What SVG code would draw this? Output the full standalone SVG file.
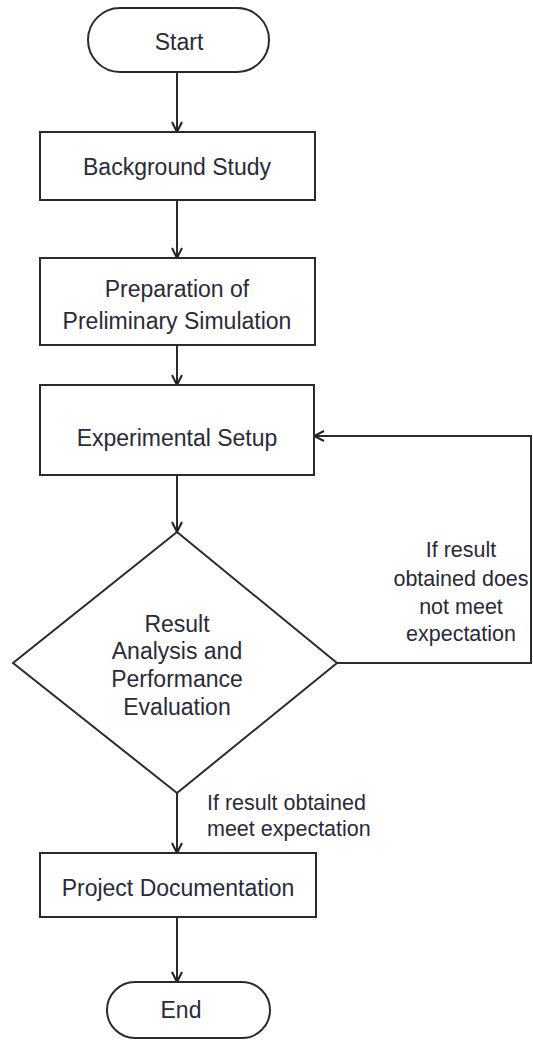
<svg xmlns="http://www.w3.org/2000/svg" width="533" height="1045" viewBox="0 0 533 1045">
<defs>
<marker id="arr" viewBox="0 0 12 12" refX="11" refY="6" markerWidth="12" markerHeight="12" markerUnits="userSpaceOnUse" orient="auto">
<path d="M1,1 L11,6 L1,11" fill="none" stroke="#222" stroke-width="2"/>
</marker>
<style>
.box{fill:#fff;stroke:#2b2b2b;stroke-width:2}
.t{font-family:"Liberation Sans",Arial,sans-serif;font-size:23px;fill:#2a2a38;text-anchor:middle}
.l{font-family:"Liberation Sans",Arial,sans-serif;font-size:21.5px;fill:#2a2a38}
.c{fill:none;stroke:#2b2b2b;stroke-width:2;marker-end:url(#arr)}
</style>
</defs>
<rect width="533" height="1045" fill="#fff"/>
<g id="connectors">
<path class="c" d="M177,72 V132"/>
<path class="c" d="M177,200 V258"/>
<path class="c" d="M177,345 V385"/>
<path class="c" d="M177,475 V532"/>
<path class="c" d="M177,793 V853"/>
<path class="c" d="M177,917 V982"/>
<path class="c" d="M337,663 H531 V436 H314"/>
</g>
<g id="start">
<rect class="box" x="88" y="8" width="181" height="64" rx="32"/>
<text class="t" x="179" y="50">Start</text>
</g>
<g id="background">
<rect class="box" x="40" y="132" width="275" height="68"/>
<text class="t" x="177" y="175">Background Study</text>
</g>
<g id="preparation">
<rect class="box" x="40" y="258" width="275" height="87"/>
<text class="t" x="177" y="297">Preparation of</text>
<text class="t" x="177" y="329">Preliminary Simulation</text>
</g>
<g id="experimental">
<rect class="box" x="40" y="385" width="274" height="90"/>
<text class="t" x="177" y="446">Experimental Setup</text>
</g>
<g id="decision">
<polygon class="box" points="177,532 337,663 177,793 13,663"/>
<text class="t" x="177" y="632">Result</text>
<text class="t" x="177" y="659">Analysis and</text>
<text class="t" x="177" y="687">Performance</text>
<text class="t" x="177" y="715">Evaluation</text>
</g>
<g id="documentation">
<rect class="box" x="40" y="853" width="276" height="64"/>
<text class="t" x="178" y="896">Project Documentation</text>
</g>
<g id="end">
<rect class="box" x="107" y="982" width="163" height="56" rx="28"/>
<text class="t" x="181" y="1018">End</text>
</g>
<g id="labels">
<text class="l" x="461" y="557" text-anchor="middle">If result</text>
<text class="l" x="461" y="586" text-anchor="middle">obtained does</text>
<text class="l" x="461" y="614" text-anchor="middle">not meet</text>
<text class="l" x="461" y="641" text-anchor="middle">expectation</text>
<text class="l" x="207" y="810">If result obtained</text>
<text class="l" x="207" y="836">meet expectation</text>
</g>
</svg>
